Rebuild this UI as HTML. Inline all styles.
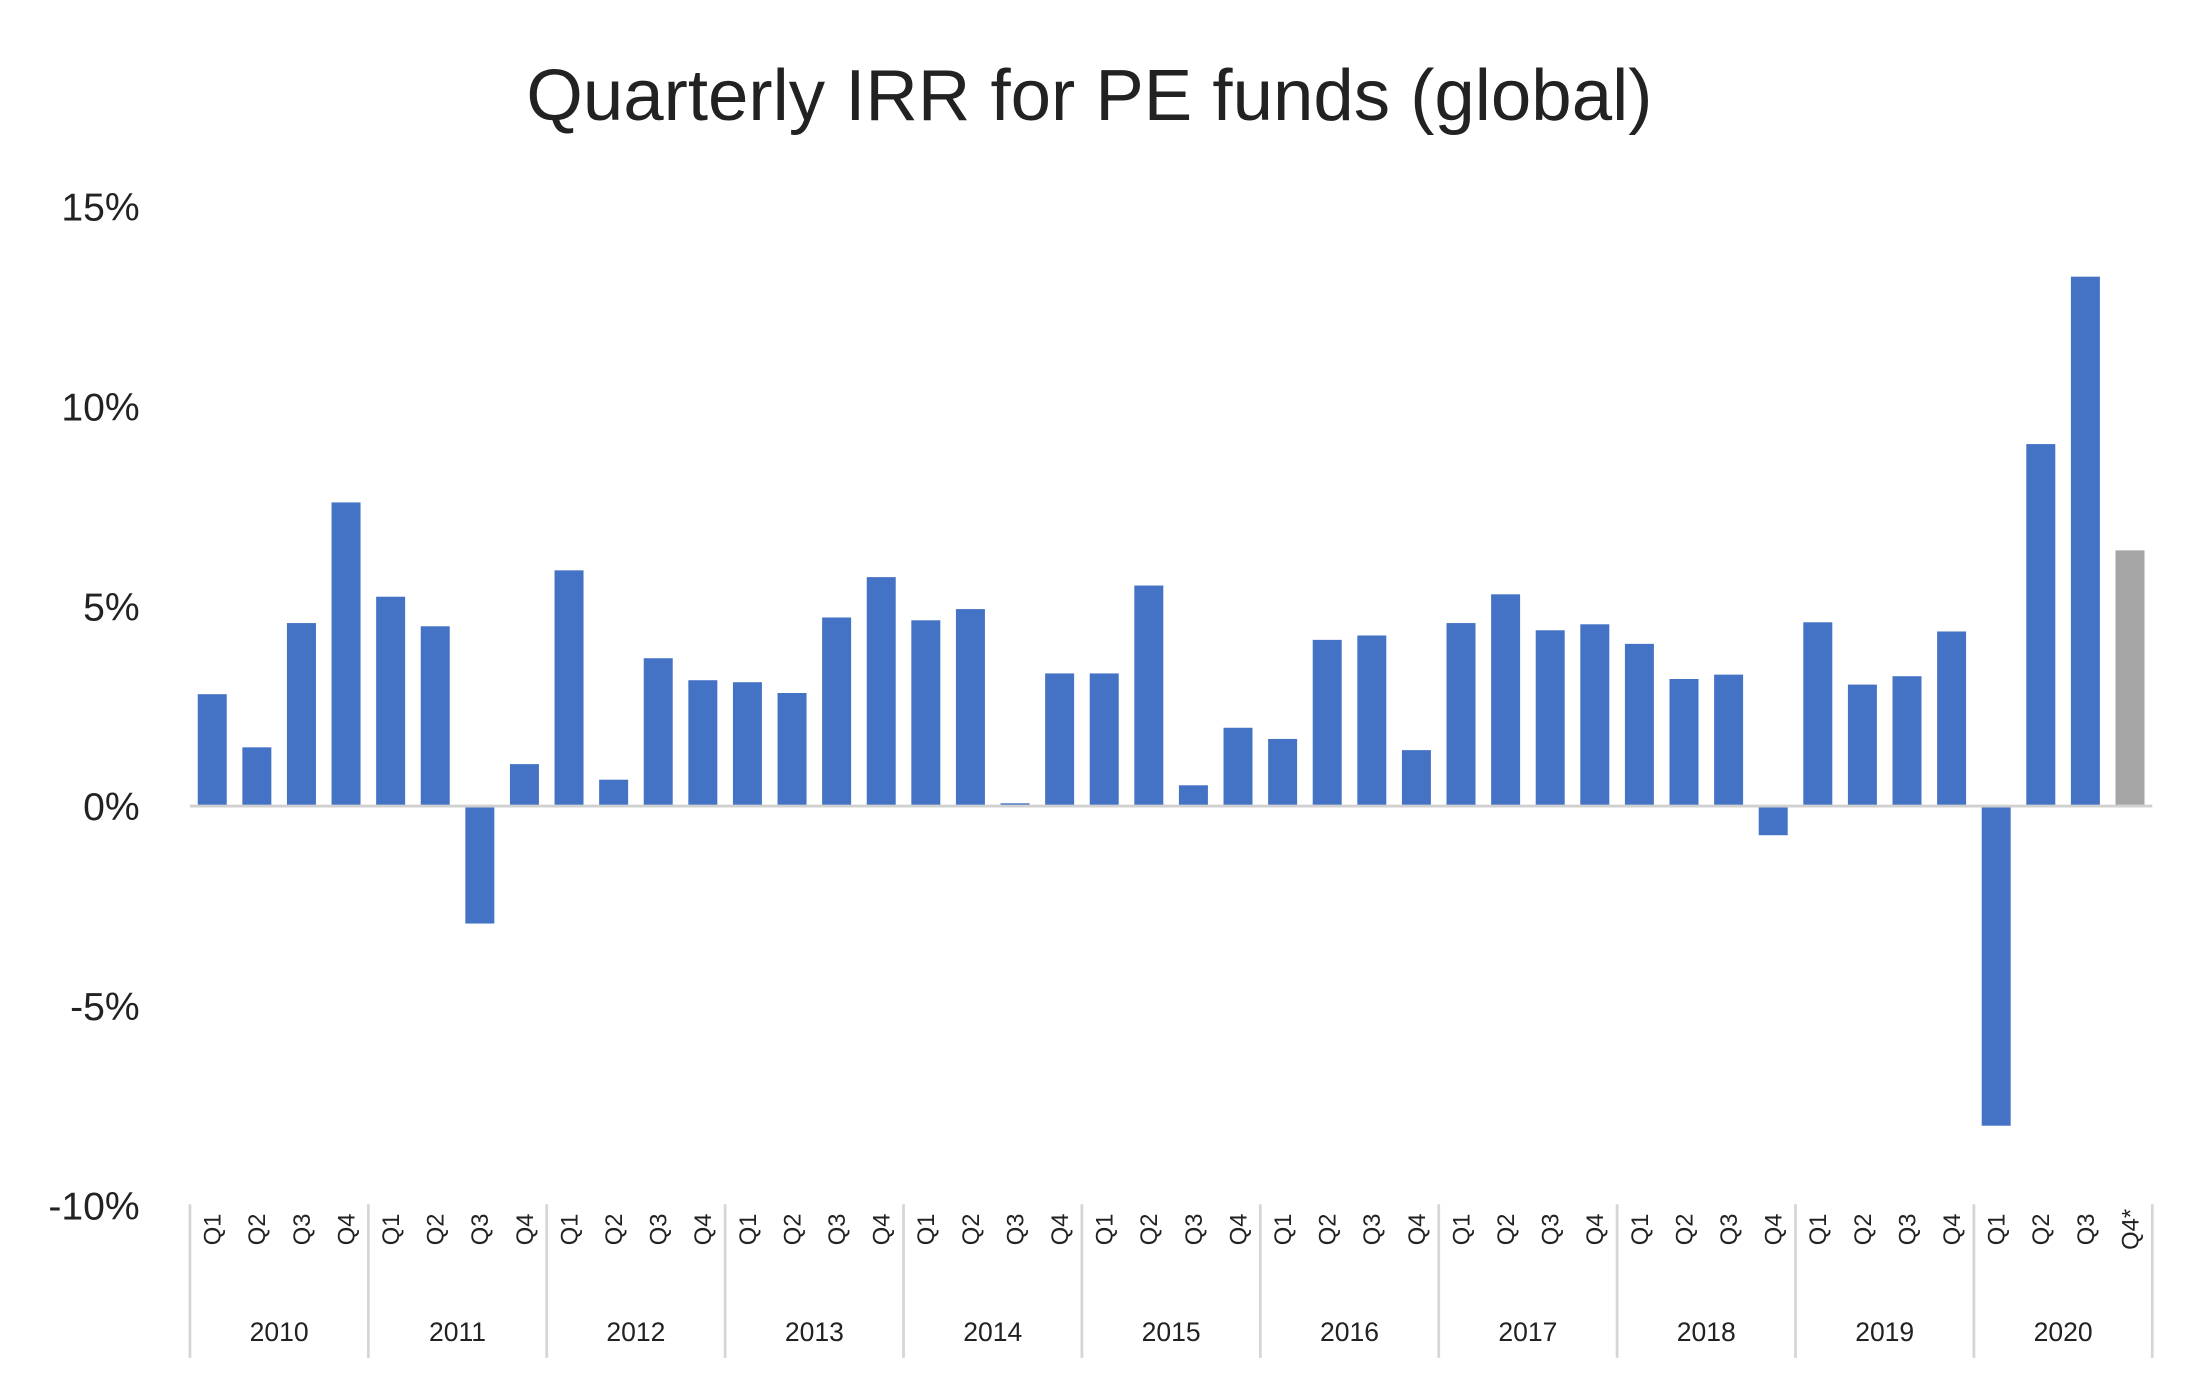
<!DOCTYPE html>
<html><head><meta charset="utf-8"><style>
html,body{margin:0;padding:0;background:#fff;}
svg{display:block;font-family:"Liberation Sans",sans-serif;}
</style></head><body>
<svg id="chart" width="2190" height="1397" viewBox="0 0 1568 1000" preserveAspectRatio="none">
<text x="780" y="86" text-anchor="middle" font-size="52" fill="#222">Quarterly IRR for PE funds (global)</text>
<g id="yaxis"></g>
<g id="bars"></g>
<g id="xaxis"></g>
</svg>
<script>
const years = ["2010","2011","2012","2013","2014","2015","2016","2017","2018","2019","2020"];
const quarters = ["Q1","Q2","Q3","Q4"];
const values = [2.8,1.47,4.58,7.6, 5.24,4.5,-2.94,1.05, 5.9,0.66,3.7,3.15, 3.1,2.83,4.72,5.73, 4.65,4.93,0.07,3.32, 3.32,5.52,0.52,1.96, 1.68,4.16,4.27,1.4, 4.58,5.3,4.4,4.55, 4.06,3.18,3.29,-0.73, 4.6,3.04,3.25,4.37, -8.0,9.06,13.25,6.4];
const estimated = [false,false,false,false, false,false,false,false, false,false,false,false, false,false,false,false, false,false,false,false, false,false,false,false, false,false,false,false, false,false,false,false, false,false,false,false, false,false,false,false, false,false,false,true];
const yTicks = [15,10,5,0,-5,-10];
const yTickLabels = ["15%","10%","5%","0%","-5%","-10%"];

const NS="http://www.w3.org/2000/svg";
const x0=136, x1=1541, zeroY=577, pxPer=28.6;
const n=values.length, band=(x1-x0)/n, bw=band*0.65;
const yScale=v=>zeroY - v*pxPer;
const xScale=i=>x0+band*i;
function mk(tag,attrs,parent){const e=document.createElementNS(NS,tag);for(const k in attrs)e.setAttribute(k,attrs[k]);parent.appendChild(e);return e;}
const ya=document.getElementById('yaxis'), bg=document.getElementById('bars'), xa=document.getElementById('xaxis');
yTicks.forEach((t,i)=>{
  const tx=mk('text',{x:100,y:yScale(t)+10,'text-anchor':'end','font-size':28,fill:'#222'},ya);
  
  
  tx.textContent=yTickLabels[i];
});
values.forEach((v,i)=>{
  const y=Math.min(yScale(v),zeroY), h=Math.abs(yScale(v)-zeroY);
  const r=mk('rect',{x:xScale(i)+(band-bw)/2,y:y,width:bw,height:h,fill:estimated[i]?'#a5a5a5':'#4472c4'},bg);
  
  
});
const zl=mk('line',{x1:x0,x2:x1,y1:zeroY,y2:zeroY,stroke:'#d0d0d0','stroke-width':2},bg);


values.forEach((v,i)=>{
  const q=quarters[i%4]+(estimated[i]?'*':'');
  const cx=xScale(i)+band/2;
  const t=mk('text',{x:0,y:0,'text-anchor':'middle','font-size':17,fill:'#222',transform:`translate(${cx+6},880) rotate(-90)`},xa);
  
  
  t.textContent=q;
});
years.forEach((yr,j)=>{
  const xs=xScale(j*4);
  const l=mk('line',{x1:xs,x2:xs,y1:862,y2:972,stroke:'#d6d6d6','stroke-width':2},xa);
  
  
  const t=mk('text',{x:xs+band*2,y:960,'text-anchor':'middle','font-size':19,fill:'#222'},xa);
  
  
  t.textContent=yr;
});
const le=mk('line',{x1:x1,x2:x1,y1:862,y2:972,stroke:'#d6d6d6','stroke-width':2},xa);


</script>
</body></html>
